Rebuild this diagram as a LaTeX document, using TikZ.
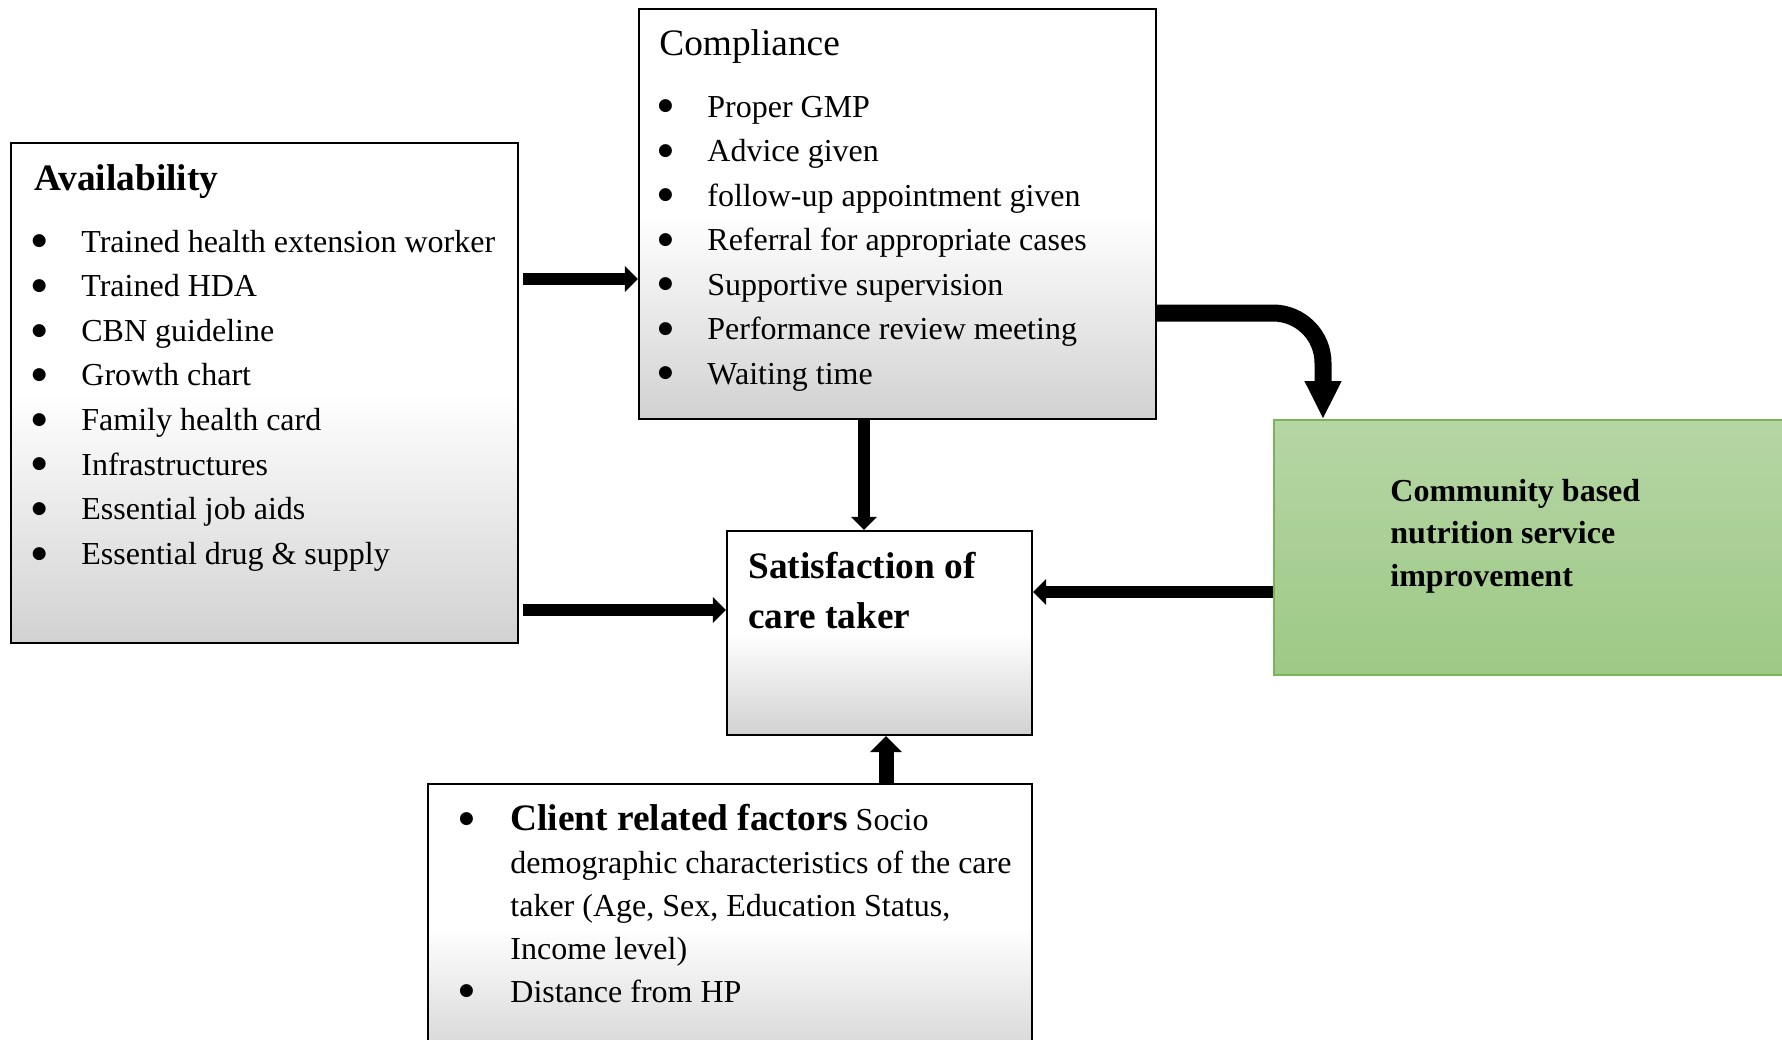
\documentclass[tikz,border=0pt]{standalone}
\usepackage{fontspec}
\setmainfont{Liberation Serif}
\newfontfamily\dejavu{DejaVu Sans}
\usetikzlibrary{arrows.meta,fit,calc}
\definecolor{grntop}{RGB}{182,214,165}
\definecolor{grnbot}{RGB}{157,201,133}
\definecolor{grnborder}{RGB}{120,180,90}
\newsavebox\dotbox
\newcommand\bigdot{\sbox\dotbox{\fontsize{8.5}{10}\dejavu ●}\hspace{-2.2pt}\smash{\raisebox{\dimexpr 5.3pt-(\ht\dotbox-\dp\dotbox)/2\relax}{\usebox\dotbox}}}
\newcommand\myB{\makebox[22.5pt][l]{\bigdot}}
\newcommand\myBc{\makebox[23.5pt][l]{\bigdot}}
\newcommand\myBlank{\makebox[23.5pt][l]{}}
\begin{document}
\begin{tikzpicture}[x=0.5pt,y=-0.5pt,
  box/.style={draw=black, line width=1.1pt, inner sep=0pt, top color=white, bottom color=black!18, middle color=white},
  greenbox/.style={draw=grnborder, line width=0.8pt, inner sep=0pt, top color=grntop, bottom color=grnbot},
  arr/.style={line width=6pt, -{Triangle[width=12.5pt,length=6.5pt]}},
  uparr/.style={line width=7.5pt, -{Triangle[width=15.5pt,length=8pt]}},
  curvarr/.style={line width=8.5pt, -{Triangle[width=17pt,length=19pt]}, rounded corners=25pt},
  txt/.style={anchor=base west, inner sep=0pt, font=\fontsize{16}{22.3}\selectfont},
]
\useasboundingbox (0,0) rectangle (1782,1039);
\clip (0,0) rectangle (1782,1039);
\fill[white] (0,0) rectangle (1782,1039);

% boxes
\node[box, fit={(11,143)(518,643)}] (avail) {};
\node[box, fit={(639,9)(1156,419)}] (compl) {};
\node[box, fit={(727,531)(1032,735)}] (satis) {};
\node[greenbox, fit={(1274,420)(1810,675)}] (comm) {};
\node[box, fit={(428,784)(1032,1070)}] (client) {};

% connectors
\draw[arr, shorten <=2pt] (avail.east |- 0,279) -- (compl.west |- 0,279);
\draw[arr, shorten <=2pt] (avail.east |- 0,610) -- (satis.west |- 0,610);
\draw[arr] (compl.south -| 864,0) -- (satis.north -| 864,0);
\draw[arr] (comm.west |- 0,592) -- (satis.east |- 0,592);
\draw[uparr] (client.north -| 886,0) -- (satis.south -| 886,0);
\draw[curvarr] (compl.east |- 0,313) -| (comm.north -| 1323,0);

% texts
\node[txt, font=\fontsize{18.67}{22}\selectfont\bfseries] (availT) at (34,190) {Availability};
\node[txt, font=\fontsize{16}{22.3}\selectfont] (availL) at (36,252) {\begin{tabular}[t]{@{}l@{}}
\myB Trained health extension worker\\
\myB Trained HDA\\
\myB CBN guideline\\
\myB Growth chart\\
\myB Family health card\\
\myB Infrastructures\\
\myB Essential job aids\\
\myB Essential drug \& supply
\end{tabular}};

\node[txt, font=\fontsize{18.67}{22}\selectfont] (complT) at (659,55) {Compliance};
\node[txt, font=\fontsize{16}{22.25}\selectfont] (complL) at (662,117) {\begin{tabular}[t]{@{}l@{}}
\myB Proper GMP\\
\myB Advice given\\
\myB follow-up appointment given\\
\myB Referral for appropriate cases\\
\myB Supportive supervision\\
\myB Performance review meeting\\
\myB Waiting time
\end{tabular}};

\node[txt, font=\fontsize{18.67}{25}\selectfont\bfseries] (satisT) at (748,578) {\begin{tabular}[t]{@{}l@{}}
Satisfaction of\\
care taker
\end{tabular}};

\node[txt, font=\fontsize{16}{21.25}\selectfont\bfseries] (commT) at (1390,501) {\begin{tabular}[t]{@{}l@{}}
Community based\\
nutrition service\\
improvement
\end{tabular}};

\node[txt, font=\fontsize{16}{21.5}\selectfont] (clientL) at (463,830) {\begin{tabular}[t]{@{}l@{}}
\myBc{\fontsize{18.67}{21.5}\selectfont\bfseries Client related factors} Socio\\
\myBlank demographic characteristics of the care\\
\myBlank taker (Age, Sex, Education Status,\\
\myBlank Income level)\\
\myBc Distance from HP
\end{tabular}};
\end{tikzpicture}
\end{document}
